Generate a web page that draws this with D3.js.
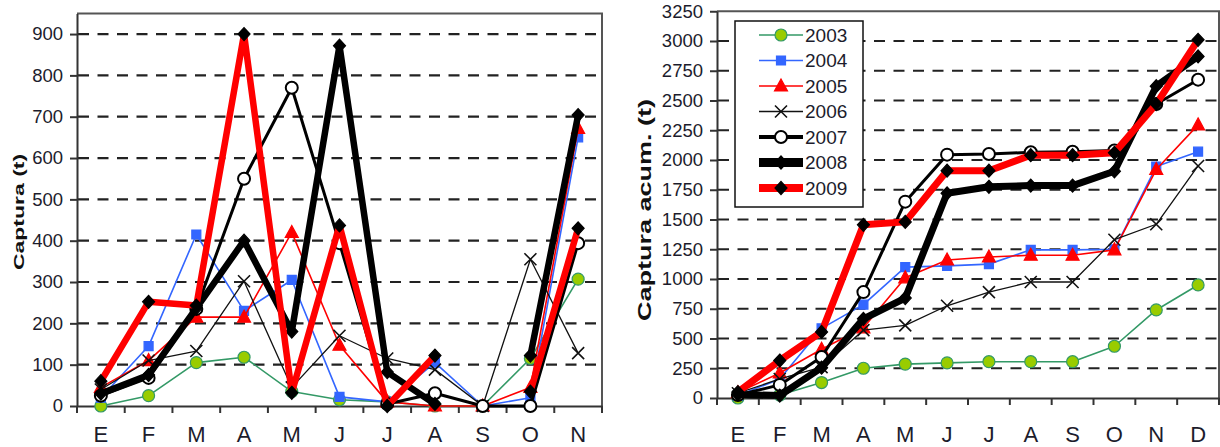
<!DOCTYPE html>
<html>
<head>
<meta charset="utf-8">
<script src="https://cdn.jsdelivr.net/npm/d3@7"></script>
<style>
body { margin: 0; background: #fff; }
svg { display: block; }
</style>
</head>
<body>
<svg id="chart" width="1220" height="447"></svg>
<script>
// ---- data ----
var years = ["2003", "2004", "2005", "2006", "2007", "2008", "2009"];
var mesesMensual = ["E", "F", "M", "A", "M", "J", "J", "A", "S", "O", "N"];
var mesesAcum = ["E", "F", "M", "A", "M", "J", "J", "A", "S", "O", "N", "D"];
var ticksMensual = [0, 100, 200, 300, 400, 500, 600, 700, 800, 900];
var ticksAcum = [0, 250, 500, 750, 1000, 1250, 1500, 1750, 2000, 2250, 2500, 2750, 3000, 3250];

// captura mensual (t)
var mensual2003 = [0, 25, 105, 118, 35, 15, 10, 0, 0, 115, 307];
var mensual2004 = [20, 145, 415, 230, 305, 22, 10, 105, 0, 20, 650];
var mensual2005 = [45, 110, 215, 215, 420, 147, 10, 0, 0, 45, 672];
var mensual2006 = [40, 110, 133, 302, 45, 170, 115, 88, 0, 355, 128];
var mensual2007 = [25, 68, 235, 550, 770, 394, 5, 31, 0, 0, 394];
var mensual2008 = [30, 75, 237, 400, 180, 872, 82, 5, null, 122, 704];
var mensual2009 = [60, 252, 243, 900, 32, 437, 0, 122, null, 35, 430];

// captura acumulada (t)
var acum2003 = [0, 25, 130, 250, 285, 295, 305, 305, 305, 435, 740, 950];
var acum2004 = [20, 160, 585, 785, 1100, 1110, 1125, 1245, 1245, 1250, 1945, 2070];
var acum2005 = [45, 210, 410, 590, 1010, 1160, 1185, 1200, 1200, 1245, 1920, 2295];
var acum2006 = [40, 160, 260, 570, 610, 775, 890, 975, 975, 1330, 1460, 1950];
var acum2007 = [25, 110, 345, 890, 1650, 2045, 2050, 2065, 2070, 2080, 2470, 2675];
var acum2008 = [30, 20, 255, 665, 840, 1720, 1775, 1785, 1785, 1905, 2620, 2870];
var acum2009 = [50, 315, 555, 1455, 1480, 1910, 1910, 2040, 2040, 2060, 2470, 3010];

var mensual = [mensual2003, mensual2004, mensual2005, mensual2006, mensual2007, mensual2008, mensual2009];
var acum = [acum2003, acum2004, acum2005, acum2006, acum2007, acum2008, acum2009];

// ---- styles ----
var narrow = "'Liberation Sans Narrow', 'Arial Narrow', sans-serif";
var styles = [
  {color: "#339966", w: 1.6, lw: 1.6, mark: "circle", fill: "#99cc00", stroke: "#339966"},
  {color: "#3366ff", w: 1.6, lw: 1.6, mark: "square", fill: "#3366ff", stroke: "#3366ff"},
  {color: "#ff0000", w: 1.6, lw: 1.6, mark: "triangle", fill: "#ff0000", stroke: "#ff0000"},
  {color: "#111111", w: 1.3, lw: 1.5, mark: "x", fill: "none", stroke: "#111111"},
  {color: "#000000", w: 3, lw: 4, mark: "circle", fill: "#ffffff", stroke: "#000000"},
  {color: "#000000", w: 6.5, lw: 9, mark: "diamond", fill: "#000000", stroke: "#000000"},
  {color: "#ff0000", w: 6.5, lw: 8, mark: "diamond", fill: "#000000", stroke: "#000000"}
];

var svg = d3.select("svg#chart");

function markPath(type) {
  if (type == "circle") return "M-6,0a6,6 0 1,0 12,0a6,6 0 1,0 -12,0Z";
  if (type == "square") return "M-4.5,-4.5h9v9h-9Z";
  if (type == "triangle") return "M0,-7L6.5,5H-6.5Z";
  if (type == "diamond") return "M0,-6.5L6,0L0,6.5L-6,0Z";
  return "M-6,-6L6,6M-6,6L6,-6";
}

function panel(p) {
  var x = d3.scaleBand().domain(d3.range(p.labels.length)).range([p.x0, p.x1]);
  var y = d3.scaleLinear().domain([0, p.yMax]).range([p.y0, p.y1]);
  var g = svg.append("g");

  // dashed grid
  g.selectAll(".grid")
    .data(p.yTicks.filter(function(v) { return v > 0 && v < p.yMax; }))
    .enter().append("line")
      .attr("x1", p.x0 + 1).attr("x2", p.x1)
      .attr("y1", function(d) { return y(d); })
      .attr("y2", function(d) { return y(d); })
      .attr("stroke", "#222").attr("stroke-width", 2.2)
      .attr("stroke-dasharray", "11,8.5");

  // frame top + right
  g.append("path")
    .attr("d", "M" + p.x0 + "," + y(p.yMax) + "H" + p.x1 + "V" + p.y0)
    .attr("fill", "none").attr("stroke", "#555").attr("stroke-width", 2);

  // y axis
  var ya = g.append("g")
    .attr("transform", "translate(" + p.x0 + ",0)")
    .call(d3.axisLeft(y).tickValues(p.yTicks).tickSize(7).tickSizeOuter(0).tickPadding(7).tickFormat(d3.format("d")));
  ya.attr("font-family", narrow).attr("font-size", 18.5);

  // x axis (labels at band centres)
  var xa = g.append("g")
    .attr("transform", "translate(0," + p.y0 + ")")
    .call(d3.axisBottom(x).tickSize(0).tickSizeOuter(0).tickPadding(p.xPad)
      .tickFormat(function(i) { return p.labels[i]; }));
  xa.attr("font-family", narrow).attr("font-size", 22);

  // ticks at band boundaries
  g.selectAll(".bt")
    .data(d3.range(p.labels.length + 1))
    .enter().append("line")
      .attr("x1", function(i) { return i < p.labels.length ? x(i) : p.x1; })
      .attr("x2", function(i) { return i < p.labels.length ? x(i) : p.x1; })
      .attr("y1", p.y0).attr("y2", p.y0 + 7)
      .attr("stroke", "#333").attr("stroke-width", 2);

  g.selectAll(".domain").attr("stroke", "#333").attr("stroke-width", 2);
  g.selectAll(".tick line").attr("stroke", "#333").attr("stroke-width", 2);
  g.selectAll(".tick text").attr("fill", "#1c1c2c");

  // title
  g.append("text")
    .attr("transform", "translate(" + p.titleX + "," + p.titleY + ") scale(0.66,1) rotate(-90)")
    .attr("text-anchor", "middle").attr("dy", "0.35em")
    .attr("font-family", "'Liberation Sans', Arial, sans-serif")
    .attr("font-weight", "bold").attr("font-size", p.titleSize)
    .attr("fill", "#111")
    .text(p.title);

  // series
  var line = d3.line()
    .defined(function(d) { return d != null; })
    .x(function(d, i) { return x(i) + x.bandwidth() / 2; })
    .y(function(d) { return y(d); });

  p.data.forEach(function(vals, k) {
    var s = styles[k];
    g.append("path")
      .datum(vals)
      .attr("d", line)
      .attr("fill", "none")
      .attr("stroke", s.color)
      .attr("stroke-width", k >= 5 ? p.thick : s.w)
      .attr("stroke-linejoin", "round")
      .attr("stroke-linecap", "round");

    g.selectAll(".m" + k)
      .data(vals.map(function(v, i) { return {v: v, i: i}; }).filter(function(d) { return d.v != null; }))
      .enter().append("path")
        .attr("d", markPath(s.mark))
        .attr("transform", function(d) { return "translate(" + (x(d.i) + x.bandwidth() / 2) + "," + y(d.v) + ")"; })
        .attr("fill", s.fill)
        .attr("stroke", s.stroke)
        .attr("stroke-width", s.mark == "x" ? 1.6 : (k == 4 ? 2 : 1.2));
  });
  return g;
}

panel({
  x0: 77, x1: 602, y0: 406, y1: 13.4, yMax: 950,
  yTicks: ticksMensual, labels: mesesMensual, data: mensual,
  xPad: 20, thick: 6.5,
  title: "Captura (t)", titleX: 19, titleY: 212, titleSize: 23
});

panel({
  x0: 717, x1: 1219, y0: 398, y1: 11.25, yMax: 3250,
  yTicks: ticksAcum, labels: mesesAcum, data: acum,
  xPad: 28, thick: 7,
  title: "Captura acum. (t)", titleX: 645, titleY: 210, titleSize: 27
});

// legend
var lg = svg.append("g");
lg.append("rect")
  .attr("x", 735).attr("y", 21).attr("width", 128).attr("height", 186)
  .attr("fill", "#fff").attr("stroke", "#111").attr("stroke-width", 1.5);

var rows = lg.selectAll(".row").data(years).enter().append("g")
  .attr("transform", function(d, i) { return "translate(0," + (35 + i * 25.5) + ")"; });

rows.append("line")
  .attr("x1", 759).attr("x2", 803).attr("y1", 0).attr("y2", 0)
  .attr("stroke", function(d, i) { return styles[i].color; })
  .attr("stroke-width", function(d, i) { return styles[i].lw; });

rows.append("path")
  .attr("d", function(d, i) { return markPath(styles[i].mark); })
  .attr("transform", "translate(781,0)")
  .attr("fill", function(d, i) { return styles[i].fill; })
  .attr("stroke", function(d, i) { return styles[i].stroke; })
  .attr("stroke-width", function(d, i) { return styles[i].mark == "x" ? 1.6 : (i == 4 ? 2 : 1.2); });

rows.append("text")
  .attr("x", 805).attr("y", 0).attr("dy", "0.36em")
  .attr("font-family", narrow).attr("font-size", 19)
  .attr("fill", "#1c1c2c")
  .text(function(d) { return d; });
</script>
</body>
</html>
